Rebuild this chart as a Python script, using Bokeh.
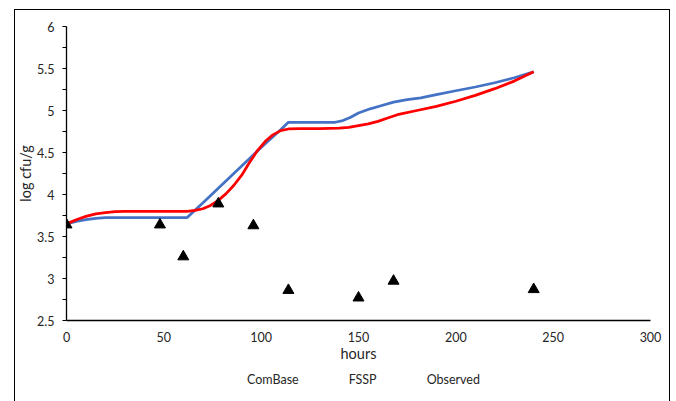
from bokeh.plotting import figure
from bokeh.layouts import column
from bokeh.models import Range1d, FixedTicker, Legend, LegendItem, InlineStyleSheet
from bokeh.embed import file_html
from bokeh.resources import INLINE

# ComBase prediction
combase_h = [0, 5, 10, 15, 20, 62, 70, 80, 90, 100, 110, 114, 138, 142, 146, 150,
             156, 162, 168, 175, 182, 190, 200, 210, 220, 230, 240]
combase_log = [3.65, 3.68, 3.70, 3.715, 3.725, 3.725, 3.90, 4.12, 4.34, 4.56, 4.77, 4.86,
               4.86, 4.88, 4.92, 4.97, 5.02, 5.06, 5.10, 5.13, 5.15, 5.19, 5.235, 5.28,
               5.33, 5.39, 5.46]

# FSSP prediction
fssp_h = [0, 5, 10, 15, 20, 25, 30, 62, 66, 70, 74, 78, 82, 86, 90, 94, 98, 102, 106,
          110, 114, 120, 130, 140, 145, 150, 155, 160, 165, 170, 180, 190, 200, 210,
          220, 230, 240]
fssp_log = [3.65, 3.70, 3.74, 3.77, 3.785, 3.795, 3.80, 3.80, 3.81, 3.83, 3.87, 3.93,
            4.01, 4.11, 4.23, 4.38, 4.52, 4.63, 4.71, 4.76, 4.78, 4.785, 4.785, 4.79,
            4.80, 4.82, 4.84, 4.87, 4.91, 4.95, 5.00, 5.05, 5.11, 5.18, 5.26, 5.35, 5.46]

# Observed
obs_h = [0, 48, 60, 78, 96, 114, 150, 168, 240]
obs_log = [3.64, 3.64, 3.26, 3.89, 3.63, 2.86, 2.77, 2.97, 2.87]

series_names = ["ComBase", "FSSP", "Observed"]
x_ticks = [0, 50, 100, 150, 200, 250, 300]
y_ticks = [2.5, 3, 3.5, 4, 4.5, 5, 5.5, 6]
y_minor = [2.75, 3.25, 3.75, 4.25, 4.75, 5.25, 5.75]

FONT = "Lato"
FS = "12.5px"
FS_TITLE = "14.5px"
TXT = "#262626"
BLUE = "#4472C4"
RED = "#FF0000"

p = figure(frame_width=584, frame_height=294, output_backend="svg", toolbar_location=None,
           x_range=Range1d(0, 300), y_range=Range1d(2.5, 6),
           min_border_left=66, min_border_right=22, min_border_top=26, min_border_bottom=44)
p.outline_line_color = None
p.xgrid.visible = False
p.ygrid.visible = False
p.background_fill_color = "white"
p.border_fill_color = "white"

p.line(combase_h, combase_log, line_color=BLUE, line_width=2.75)
p.line(fssp_h, fssp_log, line_color=RED, line_width=2.75)
p.scatter(obs_h, obs_log, marker="triangle", size=11, fill_color="black", line_color="black")

xa = p.xaxis[0]
xa.ticker = FixedTicker(ticks=x_ticks)
xa.major_tick_out = 0
xa.major_tick_in = 0
xa.minor_tick_out = 0
xa.minor_tick_in = 0
xa.axis_line_color = "black"
xa.axis_line_width = 1.3
xa.major_label_standoff = 11
xa.major_label_text_font = FONT
xa.major_label_text_font_size = FS
xa.major_label_text_color = TXT
xa.axis_label = "hours"
xa.axis_label_text_font = FONT
xa.axis_label_text_font_size = FS_TITLE
xa.axis_label_text_font_style = "normal"
xa.axis_label_text_color = TXT
xa.axis_label_standoff = 0

ya = p.yaxis[0]
ya.ticker = FixedTicker(ticks=y_ticks, minor_ticks=y_minor)
ya.major_tick_out = 4
ya.major_tick_in = 0
ya.minor_tick_out = 4
ya.minor_tick_in = 0
ya.major_tick_line_color = "black"
ya.minor_tick_line_color = "black"
ya.axis_line_color = "black"
ya.axis_line_width = 1.3
ya.major_label_standoff = 8
ya.major_label_text_font = FONT
ya.major_label_text_font_size = FS
ya.major_label_text_color = TXT
ya.axis_label = "log cfu/g"
ya.axis_label_text_font = FONT
ya.axis_label_text_font_size = FS_TITLE
ya.axis_label_text_font_style = "normal"
ya.axis_label_text_color = TXT
ya.axis_label_standoff = 0

p.stylesheets = [InlineStyleSheet(css=(
    ":host { position: relative; }"
    ":host::after { content: ''; position: absolute; left: 14px; top: 9px; right: 2px; bottom: 0px;"
    " border-left: 1px solid black; border-top: 1px solid black; border-right: 1px solid black;"
    " pointer-events: none; }"))]

# legend strip below the chart (its own small figure so the legend is not clipped)
pl = figure(frame_width=672, frame_height=37, output_backend="svg", toolbar_location=None,
            x_range=Range1d(0, 1), y_range=Range1d(0, 1),
            min_border_left=0, min_border_right=0, min_border_top=0, min_border_bottom=0)
pl.axis.visible = False
pl.xgrid.visible = False
pl.ygrid.visible = False
pl.outline_line_color = None
pl.background_fill_color = "white"
pl.border_fill_color = "white"
g1 = pl.line([], [], line_color=BLUE, line_width=2.75)
g2 = pl.line([], [], line_color=RED, line_width=2.75)
g3 = pl.scatter([], [], marker="triangle", size=11, fill_color="black", line_color="black")

legend = Legend(items=[LegendItem(label=series_names[0], renderers=[g1]),
                       LegendItem(label=series_names[1], renderers=[g2]),
                       LegendItem(label=series_names[2], renderers=[g3])],
                orientation="horizontal", location=(213, 12),
                glyph_width=30, glyph_height=20, label_height=20,
                label_standoff=4, spacing=16, padding=0, margin=0,
                border_line_color=None, background_fill_alpha=0,
                label_text_font=FONT, label_text_font_size=FS,
                label_text_color=TXT)
pl.add_layout(legend, "center")

pl.stylesheets = [InlineStyleSheet(css=(
    ":host { position: relative; }"
    ":host::after { content: ''; position: absolute; left: 14px; top: 0px; right: 2px; bottom: 0px;"
    " border-left: 1px solid black; border-right: 1px solid black; pointer-events: none; }"))]

layout = column(p, pl, spacing=0)
open("out.html", "w").write(file_html(layout, INLINE))
